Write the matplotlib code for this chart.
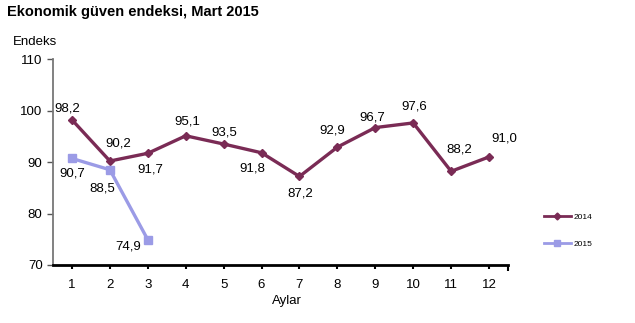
import matplotlib.pyplot as plt
from matplotlib.lines import Line2D

plt.rcParams['font.family'] = ['Liberation Sans', 'DejaVu Sans']

# Monthly economic confidence index
months = list(range(1, 13))
idx_2014 = [98.2, 90.2, 91.7, 95.1, 93.5, 91.8, 87.2, 92.9, 96.7, 97.6, 88.2, 91.0]
idx_2015 = [90.7, 88.5, 74.9]
label_off_2014 = [(-5, 11), (8, 18), (3, -16), (2, 14), (1, 12), (-9, -16),
                  (1, -17), (-5, 17), (-3, 10), (1, 16), (8, 22), (15, 18)]
label_off_2015 = [(0, -15), (-8, -19), (-20, -7)]

c14 = '#7a2b55'
c15 = '#9b9be6'

fig = plt.figure(figsize=(6.35, 3.23), dpi=100)
ax = fig.add_axes([0.0835, 0.1796, 0.7165, 0.6374])

ax.plot(months, idx_2014, color=c14, lw=2.4, marker='D', ms=4.5, zorder=3)
ax.plot(months[:len(idx_2015)], idx_2015, color=c15, lw=2.4, marker='s', ms=6, zorder=3)

def fmt(v):
    return f'{v:.1f}'.replace('.', ',')

for x, v, (dx, dy) in zip(months, idx_2014, label_off_2014):
    ax.annotate(fmt(v), (x, v), xytext=(dx * 0.72, dy * 0.72), textcoords='offset points',
                ha='center', va='center', fontsize=9.5)
for x, v, (dx, dy) in zip(months, idx_2015, label_off_2015):
    ax.annotate(fmt(v), (x, v), xytext=(dx * 0.72, dy * 0.72), textcoords='offset points',
                ha='center', va='center', fontsize=9.5)

ax.set_xlim(0.5, 12.5)
ax.set_ylim(70, 110)
ax.set_yticks([70, 80, 90, 100, 110])
ax.set_xticks(months)
ax.tick_params(axis='y', labelsize=9.5, length=4, direction='out',
               colors='#555555', labelcolor='black', width=1)
ax.tick_params(axis='x', labelsize=9.5, length=3, width=1.5, pad=7, direction='out')
ax.set_xticks([12.5], minor=True)
ax.tick_params(axis='x', which='minor', length=4, width=1.5, color='black', direction='out')

for s in ['top', 'right']:
    ax.spines[s].set_visible(False)
ax.spines['left'].set_color('#777777')
ax.spines['left'].set_linewidth(1.3)
ax.spines['bottom'].set_color('black')
ax.spines['bottom'].set_linewidth(2)

fig.text(0.011, 0.962, 'Ekonomik güven endeksi, Mart 2015', fontsize=10.5,
         fontweight='bold', ha='left', va='center')
fig.text(0.055, 0.87, 'Endeks', fontsize=9.5, ha='center', va='center')
fig.text(0.452, 0.068, 'Aylar', fontsize=9.5, ha='center', va='center')

handles = [Line2D([], [], color=c14, lw=2, marker='D', ms=3.5),
           Line2D([], [], color=c15, lw=2, marker='s', ms=4.5)]
fig.legend(handles, ['2014', '2015'], loc='center left', bbox_to_anchor=(0.845, 0.285),
           frameon=False, fontsize=6, handlelength=3.2, labelspacing=2.3, handletextpad=0.3)

fig.savefig('out.png', dpi=100)
